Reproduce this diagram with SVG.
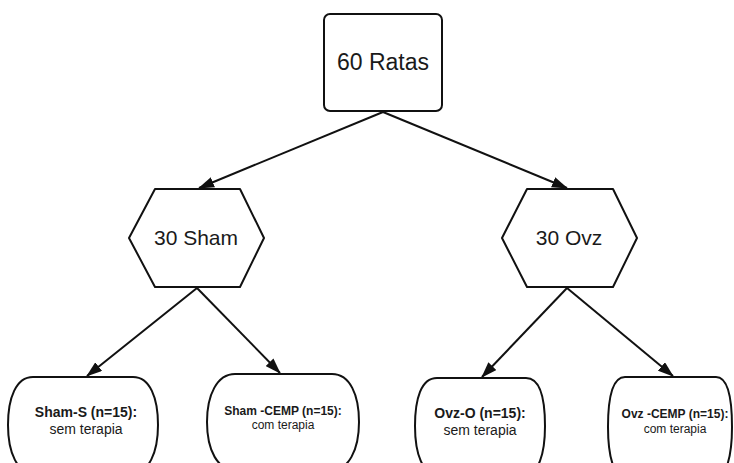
<svg xmlns="http://www.w3.org/2000/svg" width="734" height="463" viewBox="0 0 734 463">
<style>
.shape{fill:#fff;stroke:#111;stroke-width:2;stroke-linejoin:round}
.edge{fill:none;stroke:#111;stroke-width:2}
text{font-family:"Liberation Sans",Arial,sans-serif;fill:#1a1a1a;text-anchor:middle}
.b{font-weight:bold}
</style>
<defs>
<marker id="arr" viewBox="0 0 16 11" refX="15" refY="5.5" markerWidth="16" markerHeight="11" markerUnits="userSpaceOnUse" orient="auto">
<path d="M0,0 L16,5.5 L0,11 Z" fill="#111"/>
</marker>
</defs>
<rect width="734" height="463" fill="#fff"/>
<g id="connectors">
<line class="edge" x1="383" y1="112" x2="199" y2="188" marker-end="url(#arr)"/>
<line class="edge" x1="383" y1="112" x2="567" y2="188" marker-end="url(#arr)"/>
<line class="edge" x1="197" y1="288" x2="87" y2="376" marker-end="url(#arr)"/>
<line class="edge" x1="197" y1="288" x2="280" y2="373" marker-end="url(#arr)"/>
<line class="edge" x1="567" y1="288" x2="482" y2="377" marker-end="url(#arr)"/>
<line class="edge" x1="567" y1="288" x2="673" y2="376" marker-end="url(#arr)"/>
</g>
<g id="n60ratas">
<rect class="shape" x="324" y="14" width="118" height="97" rx="6"/>
<text x="383" y="70" font-size="23">60 Ratas</text>
</g>
<g id="n30sham">
<path class="shape" d="M155,189 L240,189 L264,238 L240,287 L155,287 L129,238 Z"/>
<text x="196" y="245" font-size="21">30 Sham</text>
</g>
<g id="n30ovz">
<path class="shape" d="M527,189 L613,189 L637,238 L613,287 L527,287 L502,238 Z"/>
<text x="569" y="245" font-size="21">30 Ovz</text>
</g>
<g id="nshams">
<path class="shape" d="M33,377 L133,377 C150,377 158,398 158,425 C158,454 148,473 133,473 L33,473 C18,473 8,454 8,425 C8,398 16,377 33,377 Z"/>
<text class="b" x="86" y="417" font-size="14">Sham-S (n=15):</text>
<text x="86" y="434" font-size="14">sem terapia</text>
</g>
<g id="nshamcemp">
<path class="shape" d="M235,374 L332,374 C350,374 359,395 359,422 C359,451 348,470 332,470 L235,470 C218,470 207,451 207,422 C207,395 217,374 235,374 Z"/>
<text class="b" x="283" y="415" font-size="12">Sham -CEMP (n=15):</text>
<text x="283" y="429" font-size="12">com terapia</text>
</g>
<g id="novzo">
<path class="shape" d="M437,378 L526,378 C540,378 545,399 545,426 C545,455 538,474 526,474 L437,474 C423,474 415,455 415,426 C415,399 421,378 437,378 Z"/>
<text class="b" x="480" y="418" font-size="14">Ovz-O (n=15):</text>
<text x="480" y="435" font-size="14">sem terapia</text>
</g>
<g id="novzcemp">
<path class="shape" d="M625,377 L716,377 C728,377 732,399 732,427 C732,457 726,477 716,477 L625,477 C614,477 608,457 608,427 C608,399 612,377 625,377 Z"/>
<text class="b" x="675" y="418" font-size="12">Ovz -CEMP (n=15):</text>
<text x="675" y="433" font-size="12">com terapia</text>
</g>
</svg>
